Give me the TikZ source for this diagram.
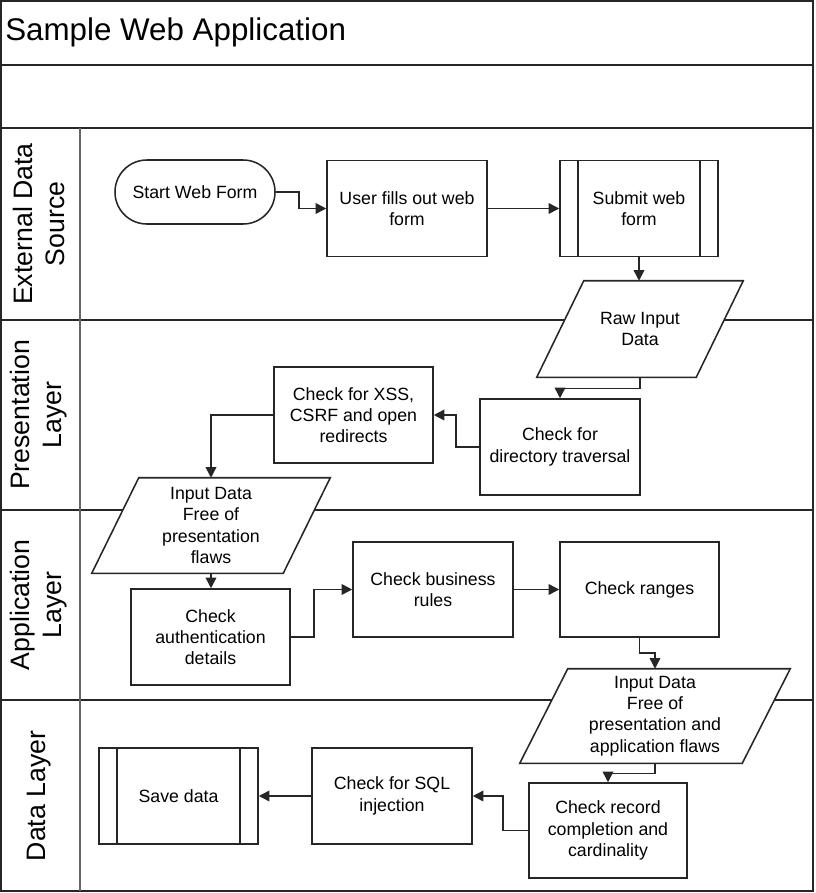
\documentclass[tikz,border=0pt]{standalone}
\usepackage{fontspec}
\setmainfont{Liberation Sans}
\usetikzlibrary{arrows.meta,calc,backgrounds}
\pgfdeclarelayer{lanes}
\pgfsetlayers{lanes,background,main}
\begin{document}
\begin{tikzpicture}[x=0.75pt,y=-0.75pt,
  frame/.style={draw=black!85, line width=1.4pt},
  txt/.style={align=center, font=\fontsize{13.3}{16}\selectfont, inner sep=1pt},
  box/.style={txt, draw=black!85, fill=white, line width=1.15pt, minimum width=120pt, minimum height=72pt},
  term/.style={txt, draw=black!85, fill=white, line width=1.15pt, minimum width=120pt, minimum height=48pt, rounded corners=23.9pt},
  para/.style={txt, minimum height=72pt},
  pshape/.style={draw=black!85, fill=white, line width=1.15pt},
  inner/.style={draw=black!85, line width=1.15pt},
  arr/.style={draw=black!85, line width=1.15pt, -{Triangle[length=8pt,width=8pt]}},
  lanelbl/.style={rotate=90, align=center, font=\fontsize{20}{24}\selectfont, inner sep=0pt},
  titlelbl/.style={anchor=west, font=\fontsize{23.5}{28}\selectfont, inner sep=0pt}
]
\useasboundingbox (0,0) rectangle (815,893);

% ---- swimlane frame ----
\begin{pgfonlayer}{lanes}
  \fill[white] (0,0) rectangle (815,893);
  \draw[frame] (1,1) rectangle (813,891);
  \draw[frame] (1,65) -- (813,65);
  \draw[frame] (1,128) -- (813,128);
  \draw[frame] (1,320) -- (813,320);
  \draw[frame] (1,510) -- (813,510);
  \draw[frame] (1,700) -- (813,700);
  \draw[draw=black!60, line width=1.4pt] (80,128) -- (80,891);
\end{pgfonlayer}

\node[titlelbl] (title) at (5,32) {Sample Web Application};

\node[lanelbl] (lane1) at (39,224) {External Data\\Source};
\node[lanelbl] (lane2) at (39,415) {Presentation\\Layer};
\node[lanelbl] (lane3) at (39,605) {Application\\Layer};
\node[lanelbl] (lane4) at (39,796) {Data Layer};

% ---- External data source ----
\node[term] (start) at (195,192) {Start Web Form};
\node[box] (user) at (407,208.5) {User fills out web\\form};
\node[box, minimum width=118.5pt] (submit) at (639,208.5) {Submit web\\form};
\draw[inner] ($(submit.north west)+(19,0)$) -- ($(submit.south west)+(19,0)$);
\draw[inner] ($(submit.north east)+(-19,0)$) -- ($(submit.south east)+(-19,0)$);

\node[para, minimum width=154.5pt] (raw) at (640,329) {Raw Input\\Data};

% ---- Presentation layer ----
\node[box] (dir) at (560,447) {Check for\\directory traversal};
\node[box, minimum width=119.25pt] (xss) at (353.5,415) {Check for XSS,\\CSRF and open\\redirects};
\node[para, minimum width=178.5pt, minimum height=71.25pt] (para2) at (211,525.5) {Input Data\\Free of\\presentation\\flaws};

% ---- Application layer ----
\node[box, minimum width=119.25pt] (auth) at (210.5,637) {Check\\authentication\\details};
\node[box, minimum height=71.25pt] (biz) at (433,589.5) {Check business\\rules};
\node[box, minimum width=119.25pt, minimum height=71.25pt] (ranges) at (639.5,589.5) {Check ranges};
\node[para, minimum width=202.5pt, minimum height=70.5pt] (para3) at (655,716) {Input Data\\Free of\\presentation and\\application flaws};

% ---- Data layer ----
\node[box, minimum width=118.5pt, minimum height=71.25pt] (record) at (608,830.5) {Check record\\completion and\\cardinality};
\node[box] (sql) at (392,796) {Check for SQL\\injection};
\node[box, minimum width=119.25pt] (save) at (178.5,796) {Save data};
\draw[inner] ($(save.north west)+(19,0)$) -- ($(save.south west)+(19,0)$);
\draw[inner] ($(save.north east)+(-19,0)$) -- ($(save.south east)+(-19,0)$);

% ---- parallelogram outlines ----
\begin{pgfonlayer}{background}
  \draw[pshape] (raw.south west) -- ($(raw.south east)+(-47,0)$) -- (raw.north east) -- ($(raw.north west)+(47,0)$) -- cycle;
  \draw[pshape] (para2.south west) -- ($(para2.south east)+(-47,0)$) -- (para2.north east) -- ($(para2.north west)+(47,0)$) -- cycle;
  \draw[pshape] (para3.south west) -- ($(para3.south east)+(-48,0)$) -- (para3.north east) -- ($(para3.north west)+(48,0)$) -- cycle;
\end{pgfonlayer}

% ---- connectors ----
\draw[arr] (start.east) -- ++(23,0) |- (user.west);
\draw[arr] (user.east) -- (submit.west);
\draw[arr] (submit.south) -- (submit.south |- raw.north);
\draw[arr] (raw.south) -- ++(0,11) -| (dir.north);
\draw[arr] (dir.west) -- ++(-23,0) |- (xss.east);
\draw[arr] (xss.west) -| (para2.north);
\draw[arr] (para2.south) -- (para2.south |- auth.north);
\draw[arr] (auth.east) -- ++(23,0) |- (biz.west);
\draw[arr] (biz.east) -- (ranges.west);
\draw[arr] (ranges.south) -- ++(0,15) -| (para3.north);
\draw[arr] (para3.south) -- ++(0,10) -| (record.north);
\draw[arr] (record.west) -- ++(-25,0) |- (sql.east);
\draw[arr] (sql.west) -- (save.east);
\end{tikzpicture}
\end{document}
